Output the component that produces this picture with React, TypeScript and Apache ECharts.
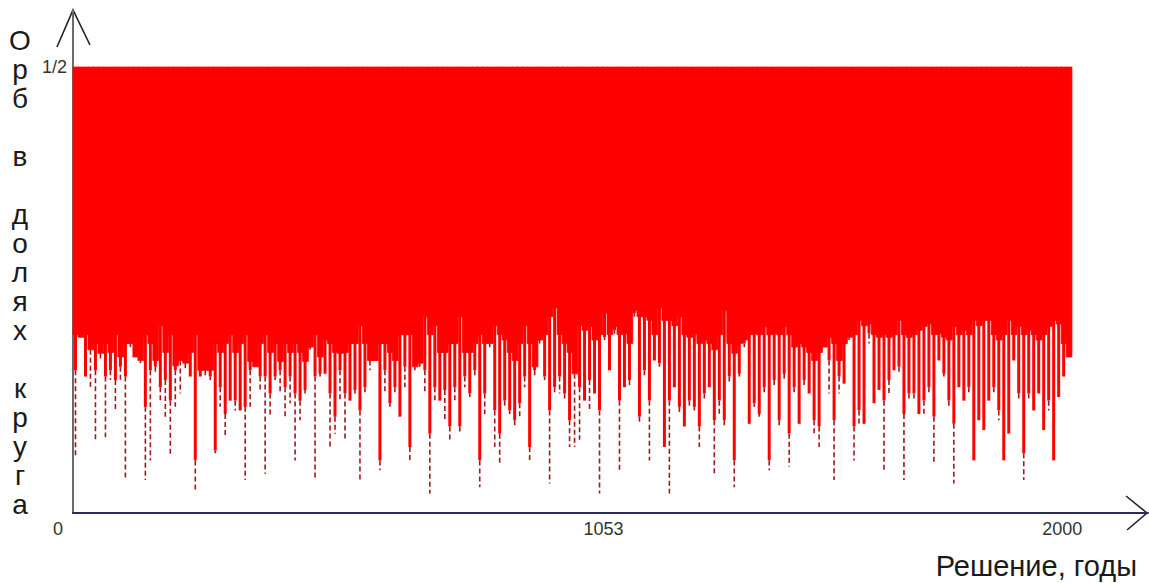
import React, { useEffect, useRef } from "react";
import * as echarts from "echarts";

// Each bin spans 10 years, starting at year 0 (200 bins -> 0..2000)
const BIN_YEARS = 10;
const TOP_VALUE = 0.5;

// Level where the compact red mass of each bin ends and white gaps begin
const canopyLow: number[] = [
  0.200, 0.197, 0.200, 0.183, 0.190, 0.179, 0.190, 0.180, 0.200, 0.175,
  0.190, 0.190, 0.175, 0.171, 0.200, 0.190, 0.171, 0.210, 0.180, 0.200,
  0.165, 0.171, 0.168, 0.180, 0.200, 0.160, 0.160, 0.160, 0.190, 0.180,
  0.190, 0.200, 0.180, 0.190, 0.200, 0.170, 0.164, 0.190, 0.200, 0.180,
  0.190, 0.170, 0.190, 0.180, 0.190, 0.180, 0.170, 0.186, 0.200, 0.175,
  0.194, 0.190, 0.180, 0.179, 0.180, 0.190, 0.190, 0.210, 0.190, 0.171,
  0.171, 0.190, 0.190, 0.180, 0.171, 0.200, 0.200, 0.200, 0.164, 0.168,
  0.220, 0.200, 0.210, 0.180, 0.180, 0.190, 0.190, 0.220, 0.180, 0.180,
  0.190, 0.200, 0.190, 0.190, 0.210, 0.200, 0.194, 0.180, 0.171, 0.190,
  0.210, 0.190, 0.164, 0.194, 0.200, 0.220, 0.230, 0.200, 0.190, 0.180,
  0.156, 0.210, 0.205, 0.209, 0.194, 0.200, 0.224, 0.200, 0.209, 0.200,
  0.201, 0.190, 0.227, 0.220, 0.220, 0.216, 0.200, 0.230, 0.216, 0.216,
  0.210, 0.220, 0.200, 0.197, 0.201, 0.190, 0.194, 0.190, 0.183, 0.200,
  0.227, 0.190, 0.179, 0.190, 0.194, 0.200, 0.201, 0.200, 0.209, 0.200,
  0.201, 0.200, 0.209, 0.200, 0.186, 0.190, 0.186, 0.180, 0.171, 0.180,
  0.186, 0.197, 0.190, 0.171, 0.190, 0.197, 0.200, 0.216, 0.210, 0.212,
  0.200, 0.197, 0.200, 0.197, 0.200, 0.216, 0.200, 0.197, 0.200, 0.205,
  0.209, 0.212, 0.200, 0.201, 0.197, 0.194, 0.209, 0.200, 0.205, 0.200,
  0.216, 0.210, 0.216, 0.216, 0.200, 0.194, 0.200, 0.216, 0.200, 0.209,
  0.200, 0.205, 0.200, 0.194, 0.200, 0.209, 0.216, 0.212, 0.190, 0.175,
];

// Lower edge of the red spike of each 10-year bin (fraction of circle)
const solidLow: number[] = [
  0.160, 0.197, 0.153, 0.183, 0.160, 0.179, 0.153, 0.160, 0.149, 0.164,
  0.153, 0.190, 0.175, 0.171, 0.119, 0.160, 0.164, 0.141, 0.149, 0.126,
  0.160, 0.171, 0.168, 0.153, 0.059, 0.153, 0.160, 0.153, 0.070, 0.141,
  0.111, 0.126, 0.126, 0.115, 0.119, 0.160, 0.164, 0.153, 0.153, 0.134,
  0.153, 0.160, 0.141, 0.153, 0.134, 0.126, 0.138, 0.186, 0.153, 0.156,
  0.156, 0.134, 0.108, 0.160, 0.134, 0.126, 0.138, 0.115, 0.141, 0.171,
  0.171, 0.059, 0.160, 0.123, 0.141, 0.108, 0.164, 0.074, 0.164, 0.168,
  0.160, 0.089, 0.141, 0.126, 0.138, 0.097, 0.141, 0.097, 0.153, 0.134,
  0.160, 0.059, 0.134, 0.190, 0.115, 0.089, 0.126, 0.115, 0.104, 0.123,
  0.153, 0.074, 0.160, 0.194, 0.153, 0.115, 0.141, 0.153, 0.134, 0.104,
  0.156, 0.141, 0.126, 0.149, 0.134, 0.115, 0.197, 0.160, 0.205, 0.126,
  0.141, 0.149, 0.224, 0.108, 0.160, 0.126, 0.171, 0.168, 0.074, 0.126,
  0.141, 0.119, 0.097, 0.126, 0.119, 0.097, 0.134, 0.141, 0.104, 0.126,
  0.104, 0.153, 0.059, 0.156, 0.190, 0.100, 0.123, 0.111, 0.141, 0.059,
  0.149, 0.104, 0.156, 0.089, 0.141, 0.100, 0.149, 0.134, 0.104, 0.097,
  0.186, 0.171, 0.104, 0.153, 0.145, 0.197, 0.097, 0.115, 0.100, 0.201,
  0.123, 0.138, 0.126, 0.149, 0.160, 0.164, 0.111, 0.134, 0.134, 0.111,
  0.126, 0.141, 0.108, 0.171, 0.156, 0.126, 0.100, 0.141, 0.126, 0.141,
  0.059, 0.104, 0.093, 0.126, 0.141, 0.115, 0.059, 0.089, 0.171, 0.134,
  0.067, 0.134, 0.115, 0.134, 0.093, 0.126, 0.059, 0.130, 0.153, 0.175,
];

// Lowest point reached by the thin dark streak of each bin
const tailLow: number[] = [
  0.063, 0.197, 0.153, 0.141, 0.080, 0.171, 0.085, 0.149, 0.115, 0.149,
  0.037, 0.186, 0.175, 0.168, 0.037, 0.059, 0.156, 0.123, 0.108, 0.063,
  0.119, 0.134, 0.160, 0.153, 0.025, 0.153, 0.153, 0.149, 0.067, 0.119,
  0.085, 0.126, 0.115, 0.115, 0.037, 0.119, 0.164, 0.138, 0.044, 0.108,
  0.149, 0.134, 0.108, 0.123, 0.059, 0.104, 0.134, 0.183, 0.037, 0.153,
  0.156, 0.074, 0.089, 0.126, 0.082, 0.126, 0.134, 0.037, 0.134, 0.160,
  0.171, 0.048, 0.134, 0.119, 0.134, 0.108, 0.141, 0.059, 0.160, 0.164,
  0.134, 0.022, 0.126, 0.126, 0.104, 0.082, 0.126, 0.089, 0.141, 0.130,
  0.153, 0.029, 0.111, 0.186, 0.074, 0.055, 0.119, 0.111, 0.097, 0.108,
  0.141, 0.059, 0.153, 0.190, 0.149, 0.033, 0.134, 0.134, 0.126, 0.074,
  0.074, 0.082, 0.126, 0.115, 0.134, 0.022, 0.194, 0.160, 0.201, 0.048,
  0.141, 0.141, 0.220, 0.100, 0.153, 0.059, 0.171, 0.164, 0.074, 0.022,
  0.141, 0.111, 0.097, 0.119, 0.115, 0.074, 0.126, 0.141, 0.044, 0.111,
  0.097, 0.145, 0.029, 0.153, 0.186, 0.100, 0.119, 0.108, 0.134, 0.048,
  0.141, 0.097, 0.149, 0.052, 0.134, 0.100, 0.141, 0.134, 0.089, 0.074,
  0.186, 0.134, 0.037, 0.134, 0.145, 0.194, 0.059, 0.097, 0.100, 0.190,
  0.123, 0.138, 0.048, 0.134, 0.160, 0.156, 0.037, 0.126, 0.126, 0.111,
  0.108, 0.134, 0.055, 0.171, 0.153, 0.119, 0.033, 0.141, 0.126, 0.134,
  0.059, 0.104, 0.093, 0.126, 0.134, 0.104, 0.059, 0.089, 0.171, 0.126,
  0.037, 0.126, 0.115, 0.134, 0.093, 0.115, 0.059, 0.130, 0.153, 0.175,
];

const xTickValues = [0, 1053, 2000];
const yTickValues = [0.5];
const yTickText = "1/2";
const yTitleLetters = ["О", "р", "б", "", "в", "", "д", "о", "л", "я", "х", "", "к", "р", "у", "г", "а"];
const xTitle = "Решение, годы";

export default function App() {
  const ref = useRef<HTMLDivElement>(null);

  useEffect(() => {
    if (!ref.current) return;
    const chart = echarts.init(ref.current, null, { renderer: "svg" });
    const data = solidLow.map((v, i) => [i * BIN_YEARS, canopyLow[i], v, tailLow[i]]);

    chart.setOption({
      animation: false,
      backgroundColor: "#ffffff",
      grid: { left: 73, right: 1, top: 10, bottom: 70, containLabel: false },
      xAxis: {
        type: "value",
        min: 0,
        max: 2154,
        splitLine: { show: false },
        axisTick: { show: false },
        axisLine: { show: true, onZero: false, lineStyle: { color: "#2c2c5c", width: 2 } },
        axisLabel: {
          customValues: xTickValues,
          margin: 7,
          fontSize: 18,
          color: "#333333",
          fontFamily: "Liberation Sans, Arial, sans-serif",
          formatter: (v: number) => {
            if (v === 0) return "{a|0}";
            if (v === 2000) return "{c|2000}";
            return "{b|" + v + "}";
          },
          rich: {
            a: { fontSize: 18, color: "#333333", padding: [0, 30, 0, 0] },
            b: { fontSize: 18, color: "#333333", padding: [0, 0, 0, 10] },
            c: { fontSize: 18, color: "#333333", padding: [0, 18, 0, 0] },
          },
        },
      },
      yAxis: {
        type: "value",
        min: 0,
        max: 0.564,
        splitLine: { show: false },
        axisTick: { show: false },
        axisLine: { show: true, onZero: false, lineStyle: { color: "#6a6a6a", width: 2 } },
        axisLabel: {
          customValues: yTickValues,
          margin: 6,
          fontSize: 18,
          color: "#333333",
          fontFamily: "Liberation Sans, Arial, sans-serif",
          formatter: () => yTickText,
        },
      },
      series: [
        {
          type: "custom",
          data,
          encode: { x: 0, y: [1, 2, 3] },
          renderItem: (params: any, api: any) => {
            const x0 = api.value(0);
            const canopy = Math.max(api.value(1), api.value(2));
            const low = api.value(2);
            const tail = api.value(3);
            const pTop = api.coord([x0, TOP_VALUE]);
            const pCanopy = api.coord([x0 + BIN_YEARS, canopy]);
            const pLow = api.coord([x0 + BIN_YEARS, low]);
            const pMid = api.coord([x0 + BIN_YEARS / 2, tail]);
            const binW = pCanopy[0] - pTop[0];
            const children: any[] = [
              {
                type: "rect",
                shape: {
                  x: pTop[0],
                  y: pTop[1],
                  width: binW + 0.8,
                  height: pCanopy[1] - pTop[1],
                },
                style: { fill: "#ff0000", stroke: "#ff0000", lineWidth: 0.8 },
              },
            ];
            if (pLow[1] - pCanopy[1] > 0.5) {
              const w = binW * 0.6;
              children.push({
                type: "rect",
                shape: {
                  x: pMid[0] - w / 2,
                  y: pCanopy[1] - 0.5,
                  width: w,
                  height: pLow[1] - pCanopy[1] + 0.5,
                },
                style: { fill: "#ff0000" },
              });
            }
            if (pMid[1] - pLow[1] > 1) {
              children.push({
                type: "line",
                shape: { x1: pMid[0], y1: pLow[1], x2: pMid[0], y2: pMid[1] },
                style: { stroke: "#a3161c", lineWidth: 1.6, lineDash: [5, 3] },
              });
            }
            return { type: "group", children };
          },
        },
      ],
      graphic: [
        {
          type: "text",
          x: 20,
          y: 272,
          style: {
            text: yTitleLetters.join("\n"),
            fontSize: 28,
            lineHeight: 29,
            fontFamily: "Liberation Sans, Arial, sans-serif",
            fill: "#1a1a1a",
            textAlign: "center",
            textVerticalAlign: "middle",
          },
        },
        {
          type: "text",
          x: 1137,
          y: 566,
          style: {
            text: xTitle,
            fontSize: 29,
            fontFamily: "Liberation Sans, Arial, sans-serif",
            fill: "#1a1a1a",
            textAlign: "right",
            textVerticalAlign: "middle",
          },
        },
        {
          type: "polyline",
          shape: { points: [[57, 47], [73, 10], [90, 45]] },
          style: { stroke: "#222222", lineWidth: 1.6, fill: "none" },
        },
        {
          type: "polyline",
          shape: { points: [[1126, 496], [1147, 513], [1127, 530]] },
          style: { stroke: "#222222", lineWidth: 1.6, fill: "none" },
        },
      ],
    });

    return () => chart.dispose();
  }, []);

  return (
    <div
      ref={ref}
      style={{ position: "fixed", left: 0, top: 0, width: 1149, height: 583 }}
    />
  );
}
